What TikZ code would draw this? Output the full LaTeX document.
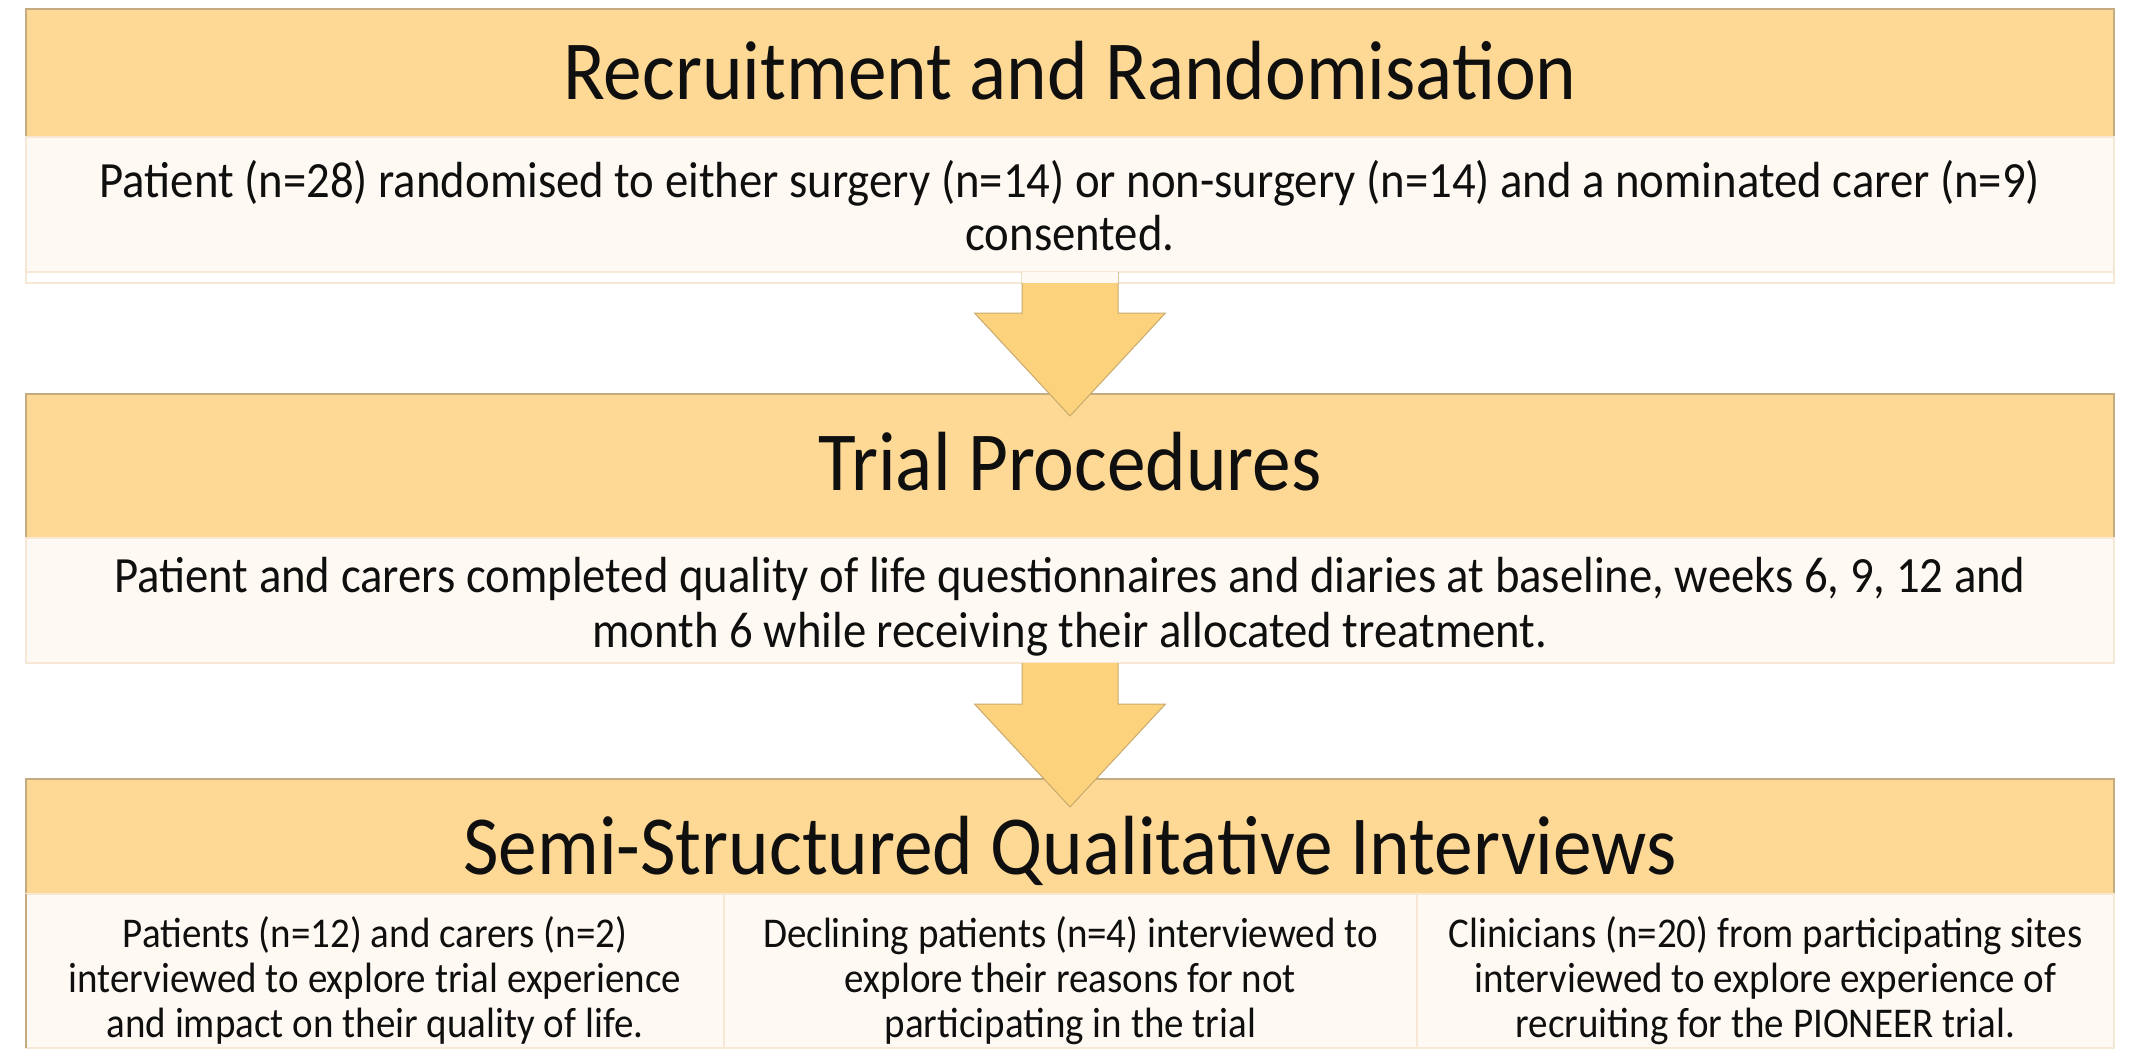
\documentclass[tikz,border=0pt]{standalone}
\usepackage{fontspec}
\setmainfont{Carlito}[FakeStretch=0.92]
\usetikzlibrary{calc}

\definecolor{hdrfill}{RGB}{254,217,149}
\definecolor{hdredge}{RGB}{196,172,128}
\definecolor{bodyfill}{RGB}{254,249,242}
\definecolor{bodyedge}{RGB}{246,232,212}
\definecolor{arrowfill}{RGB}{253,210,124}
\definecolor{arrowedge}{RGB}{200,170,110}
\definecolor{ink}{RGB}{15,15,15}

\begin{document}
\begin{tikzpicture}[x=0.5pt,y=-0.5pt,
  every node/.style={inner sep=0pt, outer sep=0pt, text=ink},
  header/.style={anchor=north west, fill=hdrfill, draw=hdredge, line width=0.6pt,
    minimum width=1044pt, font=\fontsize{42}{50}\selectfont},
  bodybox/.style={anchor=north west, fill=bodyfill, draw=bodyedge, line width=0.6pt,
    minimum width=1044pt, align=center},
  colbox/.style={anchor=north west, fill=bodyfill, draw=bodyedge, line width=0.6pt,
    minimum height=77pt, align=center, font=\fontsize{21.2}{22.5}\selectfont},
  blockarrow/.style={fill=arrowfill, draw=arrowedge, line width=0.5pt, line join=miter}
]
\useasboundingbox (0,0) rectangle (2137,1057);

% stage 1: recruitment
\draw[bodyedge, line width=0.6pt] (26,137) rectangle (2114,283);
\node[header, text height=45pt, text depth=19pt] (h1) at (26,9) {Recruitment and Randomisation};
\node[bodybox, minimum height=67.5pt, font=\fontsize{25.4}{26.5}\selectfont] (b1) at (26,137)
  {\rule{0pt}{30pt}Patient (n=28) randomised to either surgery (n=14) or non-surgery (n=14) and a nominated carer (n=9)\\
   consented.\rule[-11pt]{0pt}{11pt}};

% stage 2: trial procedures
\node[header, text height=48pt, text depth=24pt] (h2) at (26,394) {Trial Procedures};
\node[bodybox, minimum height=62.5pt, font=\fontsize{25.4}{27.5}\selectfont] (b2) at (26,538)
  {\rule{0pt}{27pt}Patient and carers completed quality of life questionnaires and diaries at baseline, weeks 6, 9, 12 and\\
   month 6 while receiving their allocated treatment.\rule[-8pt]{0pt}{8pt}};

% stage 3: interviews
\node[header, text height=47.5pt, text depth=10pt] (h3) at (26,779) {Semi-Structured Qualitative Interviews};
\node[colbox, minimum width=349pt] (c1) at (26,894)
  {\rule{0pt}{26.5pt}Patients (n=12) and carers (n=2)\\
   interviewed to explore trial experience\\
   and impact on their quality of life.\rule[-5.5pt]{0pt}{5.5pt}};
\node[colbox, minimum width=346.5pt] (c2) at (724,894)
  {\rule{0pt}{26.5pt}Declining patients (n=4) interviewed to\\
   explore their reasons for not\\
   participating in the trial\rule[-5.5pt]{0pt}{5.5pt}};
\node[colbox, minimum width=348.5pt] (c3) at (1417,894)
  {\rule{0pt}{26.5pt}Clinicians (n=20) from participating sites\\
   interviewed to explore experience of\\
   recruiting for the PIONEER trial.\rule[-5.5pt]{0pt}{5.5pt}};
\draw[hdredge, line width=0.6pt] (h3.south west) -- (c1.south west);

% block arrows between the stages
\coordinate (a1s) at (b1.south);
\coordinate (a1t) at ($(h2.north)+(0,22)$);
\filldraw[blockarrow] ($(a1s)+(-48,0)$) -- ($(a1t)+(-48,-103)$) -- ($(a1t)+(-95.5,-103)$)
  -- (a1t) -- ($(a1t)+(95.5,-103)$) -- ($(a1t)+(48,-103)$) -- ($(a1s)+(48,0)$);
% pale band where the first arrow leaves its box
\fill[bodyfill] ($(a1s)+(-48,0)$) rectangle ($(a1s)+(48,11)$);
\coordinate (a2s) at (b2.south);
\coordinate (a2t) at ($(h3.north)+(0,28)$);
\filldraw[blockarrow] ($(a2s)+(-48,0)$) -- ($(a2t)+(-48,-103)$) -- ($(a2t)+(-95.5,-103)$)
  -- (a2t) -- ($(a2t)+(95.5,-103)$) -- ($(a2t)+(48,-103)$) -- ($(a2s)+(48,0)$);
\end{tikzpicture}
\end{document}
